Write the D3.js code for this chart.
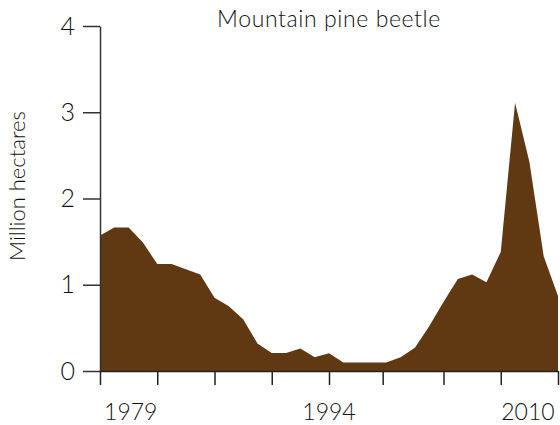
<!DOCTYPE html>
<html lang="en">
<head>
  <meta charset="UTF-8">
  <title>Mountain pine beetle</title>
  <script src="https://d3js.org/d3.v7.min.js"></script>
  <style>
    body { margin: 0; background: #fff; }
    svg { display: block; }
    text { font-family: Lato, 'Open Sans', sans-serif; font-weight: 300; fill: #111; }
  </style>
</head>
<body>
  <svg width="560" height="425"></svg>
  <script>
    // affected area, million hectares, one value per year
    const years = d3.range(1979, 2012)
    const hectares = [
      1.57, 1.665, 1.665, 1.49, 1.24, 1.24, 1.18, 1.12, 0.85, 0.75,
      0.60, 0.32, 0.21, 0.21, 0.26, 0.16, 0.205, 0.10, 0.10, 0.10,
      0.10, 0.16, 0.27, 0.52, 0.80, 1.066, 1.12, 1.03, 1.38, 3.11,
      2.425, 1.33, 0.87
    ]
    const yTicks = [0, 1, 2, 3, 4]
    const xTickYears = [1979, 1983, 1987, 1991, 1995, 1998.75, 2003, 2007, 2011]
    const xLabels = ['1979', '1994', '2010']
    const xLabelAt = [1981.15, 1995, 2008.9]

    const svg = d3.select('svg')
    const x = d3.scaleLinear().domain([1979, 2011]).range([100, 558])
    const y = d3.scaleLinear().domain([0, 4]).range([371, 26])

    const data = years.map((yr, i) => ({ yr, v: hectares[i] }))

    const area = d3.area()
      .x(d => x(d.yr))
      .y0(y(0))
      .y1(d => y(d.v))

    svg.append('path')
      .datum(data)
      .attr('d', area)
      .attr('fill', '#603913')

    // y axis
    const yAxis = svg.append('g')
      .attr('transform', 'translate(100,0)')
      .call(d3.axisLeft(y).tickValues(yTicks).tickFormat(d3.format('d'))
        .tickSize(17).tickPadding(8).tickSizeOuter(0))
    yAxis.selectAll('text').style('font-size', '25px')
    yAxis.selectAll('path, line').attr('stroke', '#333').attr('stroke-width', 1.5)

    // x axis
    const xAxis = svg.append('g')
      .attr('transform', 'translate(0,371)')
      .call(d3.axisBottom(x).tickValues(xTickYears).tickSize(14).tickFormat('').tickSizeOuter(0))
    xAxis.selectAll('path, line').attr('stroke', '#222').attr('stroke-width', 1.5)

    svg.selectAll('text.xlabel')
      .data(xLabels)
      .enter()
      .append('text')
      .attr('class', 'xlabel')
      .attr('x', (d, i) => x(xLabelAt[i]))
      .attr('y', 420)
      .attr('text-anchor', 'middle')
      .style('font-size', '23px')
      .text(d => d)

    svg.append('text')
      .attr('transform', 'translate(25,186) rotate(-90)')
      .attr('text-anchor', 'middle')
      .style('font-size', '22px')
      .text('Million hectares')

    svg.append('text')
      .attr('x', 329)
      .attr('y', 27)
      .attr('text-anchor', 'middle')
      .style('font-size', '23px')
      .style('letter-spacing', '0.6px')
      .text('Mountain pine beetle')
  </script>
</body>
</html>
